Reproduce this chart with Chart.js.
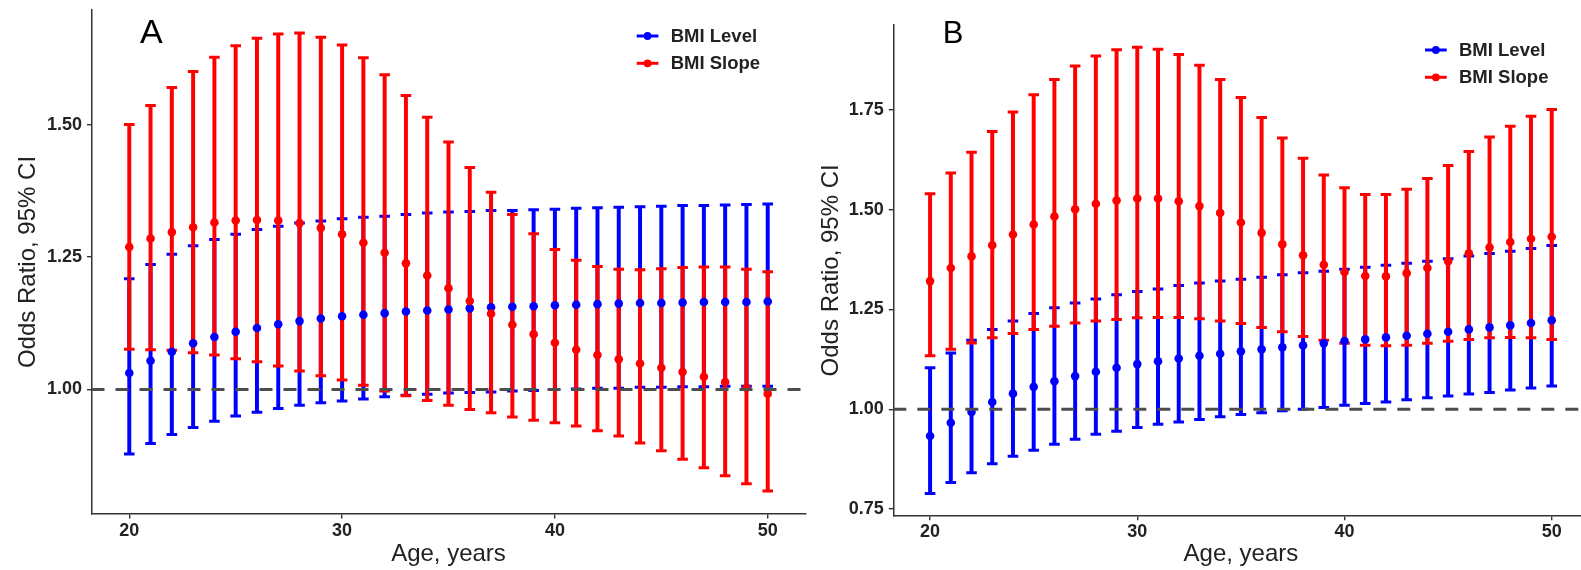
<!DOCTYPE html>
<html>
<head>
<meta charset="utf-8">
<script src="https://cdn.jsdelivr.net/npm/chart.js@4.4.1/dist/chart.umd.min.js"></script>
<style>
html,body{margin:0;padding:0;background:#fff;width:1581px;height:570px;overflow:hidden;position:relative}
canvas{position:absolute;top:0}
#ca{left:0}
#cb{left:800px}
</style>
</head>
<body>
<canvas id="ca" width="820" height="570"></canvas>
<canvas id="cb" width="800" height="570"></canvas>
<script>
// ---------- data ----------
const ages = [20,21,22,23,24,25,26,27,28,29,30,31,32,33,34,35,36,37,38,39,40,41,42,43,44,45,46,47,48,49,50];
const seriesNames = ['BMI Level', 'BMI Slope'];
const xTicks = [20, 30, 40, 50];
const yTicksA = [1.00, 1.25, 1.50];
const yTicksB = [0.75, 1.00, 1.25, 1.50, 1.75];
const xRange = [18.225, 51.775];
const yRangeA = [0.7648, 1.7163];
const yRangeB = [0.7331, 1.9629];
const refLine = 1.0;

// Panel A - BMI Level
const aLevelOR = [1.031,1.054,1.071,1.087,1.099,1.109,1.116,1.123,1.129,1.134,1.138,1.141,1.144,1.147,1.149,1.151,1.153,1.155,1.156,1.157,1.159,1.160,1.161,1.162,1.163,1.163,1.164,1.165,1.165,1.165,1.166];
const aLevelLo = [0.878,0.898,0.915,0.928,0.940,0.950,0.957,0.964,0.970,0.975,0.978,0.982,0.986,0.989,0.991,0.993,0.994,0.995,0.997,0.998,1.000,1.001,1.002,1.002,1.004,1.004,1.005,1.005,1.006,1.006,1.006];
const aLevelHi = [1.209,1.236,1.255,1.271,1.283,1.293,1.302,1.308,1.314,1.318,1.322,1.325,1.327,1.330,1.333,1.335,1.336,1.338,1.338,1.339,1.340,1.342,1.343,1.344,1.345,1.346,1.347,1.347,1.348,1.349,1.350];
// Panel A - BMI Slope
const aSlopeOR = [1.269,1.285,1.297,1.306,1.315,1.319,1.320,1.319,1.314,1.305,1.293,1.277,1.258,1.238,1.215,1.191,1.167,1.143,1.122,1.104,1.088,1.075,1.065,1.057,1.049,1.041,1.033,1.024,1.014,1.003,0.992];
const aSlopeLo = [1.076,1.075,1.074,1.069,1.065,1.058,1.052,1.044,1.035,1.026,1.018,1.008,0.997,0.988,0.979,0.970,0.962,0.956,0.948,0.942,0.937,0.931,0.922,0.912,0.899,0.884,0.868,0.852,0.837,0.822,0.808];
const aSlopeHi = [1.500,1.536,1.570,1.600,1.627,1.649,1.663,1.671,1.673,1.665,1.650,1.626,1.594,1.555,1.514,1.467,1.419,1.372,1.330,1.294,1.264,1.244,1.232,1.227,1.226,1.228,1.230,1.231,1.231,1.227,1.222];

// Panel B - BMI Level
const bLevelOR = [0.933,0.966,0.993,1.018,1.039,1.056,1.070,1.083,1.094,1.104,1.113,1.120,1.127,1.134,1.139,1.145,1.150,1.155,1.160,1.165,1.171,1.175,1.180,1.184,1.189,1.194,1.200,1.205,1.210,1.216,1.223];
const bLevelLo = [0.789,0.816,0.841,0.863,0.882,0.897,0.912,0.925,0.937,0.945,0.954,0.962,0.968,0.974,0.981,0.987,0.991,0.996,1.000,1.004,1.010,1.014,1.018,1.024,1.029,1.033,1.038,1.042,1.048,1.053,1.058];
const bLevelHi = [1.104,1.141,1.173,1.200,1.221,1.240,1.254,1.266,1.276,1.287,1.295,1.301,1.310,1.316,1.321,1.326,1.331,1.337,1.342,1.346,1.351,1.356,1.361,1.366,1.371,1.377,1.384,1.390,1.396,1.403,1.410];
// Panel B - BMI Slope
const bSlopeOR = [1.321,1.354,1.383,1.411,1.438,1.463,1.483,1.501,1.515,1.523,1.528,1.528,1.521,1.509,1.492,1.468,1.442,1.413,1.386,1.362,1.344,1.334,1.333,1.341,1.354,1.371,1.391,1.405,1.419,1.427,1.432];
const bSlopeLo = [1.134,1.150,1.166,1.179,1.190,1.200,1.208,1.216,1.221,1.225,1.229,1.230,1.230,1.227,1.221,1.215,1.205,1.194,1.182,1.173,1.165,1.160,1.159,1.160,1.165,1.170,1.175,1.179,1.180,1.179,1.175];
const bSlopeHi = [1.540,1.592,1.644,1.696,1.745,1.788,1.826,1.860,1.885,1.901,1.907,1.902,1.889,1.862,1.826,1.781,1.731,1.680,1.629,1.587,1.555,1.538,1.538,1.551,1.578,1.611,1.646,1.682,1.709,1.734,1.751];

// ---------- styling ----------
const FAMILY = '"Liberation Sans", Arial, Helvetica, sans-serif';
const BLUE = '#0000FF';
const RED = '#FF0000';
const AXIS = '#333333';
const TEXT = '#222222';

// pointOrder / barOrder: lower number is drawn on top
function seriesDatasets(label, color, mid, lo, hi, pointOrder, barOrder) {
  return [
    { type: 'scatter', label: label, isMain: true,
      data: ages.map((a, i) => ({ x: a, y: mid[i] })),
      pointRadius: 4.3, pointBackgroundColor: color, pointBorderWidth: 0,
      showLine: false, order: pointOrder },
    { type: 'scatter', label: label + ' lower',
      data: ages.map((a, i) => ({ x: a, y: lo[i] })),
      pointStyle: 'line', pointRadius: 5.3, pointBorderColor: color, pointBorderWidth: 3,
      showLine: false, order: barOrder },
    { type: 'scatter', label: label + ' upper',
      data: ages.map((a, i) => ({ x: a, y: hi[i] })),
      pointStyle: 'line', pointRadius: 5.3, pointBorderColor: color, pointBorderWidth: 3,
      showLine: false, order: barOrder },
    { type: 'bar', label: label + ' CI',
      data: ages.map((a, i) => ({ x: a, y: [lo[i], hi[i]] })),
      backgroundColor: color, borderWidth: 0, barThickness: 3.3, grouped: false,
      order: barOrder }
  ];
}

const decorPlugin = {
  id: 'decor',
  afterDraw(chart, args, opts) {
    const ctx = chart.ctx;
    ctx.save();
    ctx.fillStyle = '#000';
    ctx.font = opts.labelSize + 'px ' + FAMILY;
    ctx.textAlign = 'left';
    ctx.textBaseline = 'alphabetic';
    ctx.fillText(opts.label, opts.labelX, opts.labelY);
    const items = chart.data.datasets.filter(d => d.isMain)
      .sort((a, b) => seriesNames.indexOf(a.label) - seriesNames.indexOf(b.label));
    items.forEach((d, i) => {
      const y = opts.legendY + i * opts.legendGap;
      const x0 = opts.legendX;
      ctx.strokeStyle = d.pointBackgroundColor;
      ctx.lineWidth = 3;
      ctx.beginPath();
      ctx.moveTo(x0, y);
      ctx.lineTo(x0 + 21.7, y);
      ctx.stroke();
      ctx.fillStyle = d.pointBackgroundColor;
      ctx.beginPath();
      ctx.arc(x0 + 10.85, y, 3.9, 0, Math.PI * 2);
      ctx.fill();
      ctx.fillStyle = TEXT;
      ctx.font = 'bold ' + opts.legendSize + 'px ' + FAMILY;
      ctx.textBaseline = 'middle';
      ctx.fillText(d.label, x0 + 34, y + 0.5);
    });
    ctx.restore();
  }
};

function makeChart(id, p) {
  const datasets = [
    { type: 'line', label: 'ref', data: [{ x: xRange[0], y: refLine }, { x: xRange[1], y: refLine }],
      borderColor: '#4d4d4d', borderWidth: 3, borderDash: [13, 11], pointRadius: 0, fill: false, order: 0 },
    ...seriesDatasets(seriesNames[0], BLUE, p.level[0], p.level[1], p.level[2], 2, 4),
    ...seriesDatasets(seriesNames[1], RED, p.slope[0], p.slope[1], p.slope[2], 1, 3)
  ];
  const tickFont = { family: FAMILY, size: 18, weight: 'bold' };
  const grid = { drawOnChartArea: false, drawTicks: true, tickLength: 4.5, color: AXIS, lineWidth: 1.4, offset: false };
  const border = { display: true, color: AXIS, width: 1.5 };
  return new Chart(document.getElementById(id), {
    type: 'scatter',
    data: { datasets },
    plugins: [decorPlugin],
    options: {
      responsive: false,
      maintainAspectRatio: false,
      devicePixelRatio: 1,
      animation: false,
      events: [],
      layout: { padding: { left: 0, top: p.padTop, right: p.padRight, bottom: 0 } },
      plugins: {
        legend: { display: false },
        tooltip: { enabled: false },
        decor: p.decor
      },
      scales: {
        x: {
          type: 'linear', min: xRange[0], max: xRange[1], offset: false,
          afterBuildTicks: s => { s.ticks = xTicks.map(v => ({ value: v })); },
          afterFit: s => { s.height = p.xAxisHeight; s.paddingLeft = 0; s.paddingRight = 0; },
          ticks: { font: { ...tickFont, lineHeight: 1.2 }, color: TEXT, padding: 1.5, maxRotation: 0, autoSkip: false,
                   callback: v => String(v) },
          grid, border,
          title: { display: true, text: 'Age, years', color: TEXT,
                   font: { family: FAMILY, size: 24, lineHeight: 1.2 }, padding: { top: 0, bottom: 1 } }
        },
        y: {
          type: 'linear', min: p.yRange[0], max: p.yRange[1],
          afterBuildTicks: s => { s.ticks = p.yTicks.map(v => ({ value: v })); },
          afterFit: s => { s.width = p.yAxisWidth; s.paddingTop = 0; s.paddingBottom = 0; },
          ticks: { font: { ...tickFont, lineHeight: 1 }, color: TEXT, padding: 5, autoSkip: false,
                   callback: v => Number(v).toFixed(2) },
          grid, border,
          title: { display: true, text: 'Odds Ratio, 95% CI', color: TEXT,
                   font: { family: FAMILY, size: 24, lineHeight: 1.2 }, padding: { top: p.yTitlePad, bottom: 0 } }
        }
      }
    }
  });
}

makeChart('ca', {
  level: [aLevelOR, aLevelLo, aLevelHi],
  slope: [aSlopeOR, aSlopeLo, aSlopeHi],
  yRange: yRangeA, yTicks: yTicksA,
  padTop: 10, padRight: 14.5, xAxisHeight: 56, yAxisWidth: 91.5, yTitlePad: 13.9,
  decor: { label: 'A', labelSize: 34, labelX: 140, labelY: 43.3,
           legendX: 636.7, legendY: 36, legendGap: 27.3, legendSize: 18.5 }
});

makeChart('cb', {
  level: [bLevelOR, bLevelLo, bLevelHi],
  slope: [bSlopeOR, bSlopeLo, bSlopeHi],
  yRange: yRangeB, yTicks: yTicksB,
  padTop: 25, padRight: 11.5, xAxisHeight: 54.3, yAxisWidth: 93.3, yTitlePad: 17.3,
  decor: { label: 'B', labelSize: 31, labelX: 142.7, labelY: 43.3,
           legendX: 625, legendY: 50, legendGap: 27.3, legendSize: 18.5 }
});
</script>
</body>
</html>
